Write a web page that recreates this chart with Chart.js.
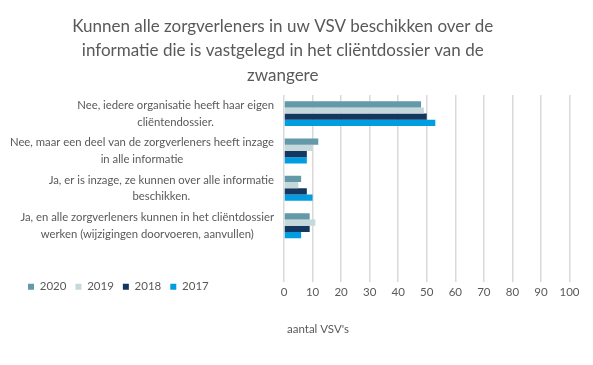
<!DOCTYPE html>
<html>
<head>
<meta charset="utf-8">
<script src="https://cdn.jsdelivr.net/npm/chart.js@4"></script>
<style>
html,body{margin:0;padding:0;background:#fff;}
#wrap{position:relative;width:593px;height:365px;}
</style>
</head>
<body>
<div id="wrap"><canvas id="c"></canvas></div>
<script>
const categories = [
  ["Nee, iedere organisatie heeft haar eigen", "cliëntendossier."],
  ["Nee, maar een deel van de zorgverleners heeft inzage", "in alle informatie"],
  ["Ja, er is inzage, ze kunnen over alle informatie", "beschikken."],
  ["Ja, en alle zorgverleners kunnen in het cliëntdossier", "werken (wijzigingen doorvoeren, aanvullen)"],
  [""]
];
const seriesNames = ["2020", "2019", "2018", "2017"];
const values2020 = [48, 12, 6, 9, null];
const values2019 = [49, 10, 5, 11, null];
const values2018 = [50, 8, 8, 9, null];
const values2017 = [53, 8, 10, 6, null];
const xTicks = [0, 10, 20, 30, 40, 50, 60, 70, 80, 90, 100];
const titleLines = ["Kunnen alle zorgverleners in uw VSV beschikken over de", "informatie die is vastgelegd in het cliëntdossier van de", "zwangere"];
const xTitle = "aantal VSV's";

const colors = ["#6399A8", "#C5D9DA", "#133761", "#009EE0"];
const textColor = "#595959";
const FONT = "Lato";

Chart.defaults.font.family = FONT;
Chart.defaults.color = textColor;

const yLabelPlugin = {
  id: 'yLabels',
  beforeDraw(chart) {
    const t = chart.titleBlock;
    if (t) { t.left -= 2; t.right -= 2; }
    const lg = chart.legend;
    if (lg) { lg.left = 19; lg.top = 272; }
  },
  afterDraw(chart) {
    const ctx = chart.ctx;
    const ys = chart.scales.y;
    const xs = chart.scales.x;
    ctx.save();
    ctx.font = "11.3px " + FONT;
    ctx.fillStyle = textColor;
    ctx.textAlign = "center";
    ctx.textBaseline = "middle";
    const rightEdge = 274;
    const lh = 16.5;
    categories.forEach((lines, i) => {
      const arr = Array.isArray(lines) ? lines : [lines];
      const widest = Math.max(...arr.map(s => ctx.measureText(s).width));
      const cx = rightEdge - widest / 2;
      const cy = ys.getPixelForValue(i);
      const y0 = cy - (arr.length - 1) * lh / 2;
      arr.forEach((s, k) => ctx.fillText(s, cx, y0 + k * lh));
    });
    ctx.textAlign = "left";
    ctx.font = "11.5px " + FONT;
    ctx.fillText(xTitle, xs.getPixelForValue(0) + 3, xs.bottom + 26);
    ctx.restore();
  }
};

const allValues = [values2020, values2019, values2018, values2017];
new Chart(document.getElementById('c'), {
  type: 'bar',
  data: {
    labels: categories,
    datasets: seriesNames.map((n, i) => ({
      label: n,
      data: allValues[i],
      backgroundColor: colors[i],
      borderWidth: 0,
      barPercentage: 1,
      categoryPercentage: 0.667
    }))
  },
  options: {
    indexAxis: 'y',
    responsive: true,
    maintainAspectRatio: false,
    animation: false,
    layout: { padding: { left: 0, right: 23.5, top: 0, bottom: 31 } },
    plugins: {
      title: {
        display: true,
        text: titleLines,
        color: textColor,
        font: { family: FONT, size: 17, weight: 'normal', lineHeight: 1.44 },
        padding: { top: 14, bottom: 7.5 }
      },
      legend: {
        display: true,
        position: 'bottom',
        align: 'start',
        labels: {
          boxWidth: 6,
          boxHeight: 6,
          padding: 9,
          color: textColor,
          font: { family: FONT, size: 11.5 }
        }
      },
      tooltip: { enabled: false }
    },
    scales: {
      x: {
        min: 0,
        max: 100,
        afterBuildTicks(scale) { scale.ticks = xTicks.map(v => ({ value: v })); },
        ticks: { color: textColor, font: { family: FONT, size: 11.5 }, padding: 4 },
        grid: { color: '#d9d9d9', lineWidth: 1.5, drawTicks: false },
        border: { display: false },
        title: { display: false }
      },
      y: {
        ticks: { display: false },
        grid: { display: false },
        border: { display: false },
        afterFit(scale) { scale.width = 284; }
      }
    }
  },
  plugins: [yLabelPlugin]
});
</script>
</body>
</html>
